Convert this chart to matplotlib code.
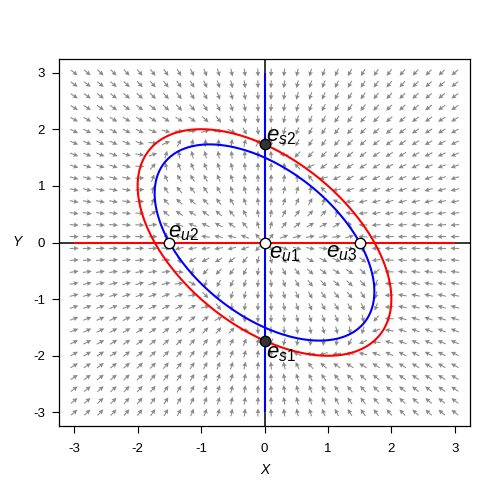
import numpy as np
import matplotlib
matplotlib.use("Agg")
import matplotlib.pyplot as plt

plt.rcParams['font.family'] = ['Liberation Sans', 'DejaVu Sans']
plt.rcParams['mathtext.fontset'] = 'custom'
plt.rcParams['mathtext.it'] = 'Liberation Sans:italic'
plt.rcParams['mathtext.rm'] = 'Liberation Sans'
plt.rcParams['axes.unicode_minus'] = False

# system: dx/dt = x(a - Q), dy/dt = y(b - Q), Q = x^2 + xy + y^2
a, b = 2.25, 3.0
lim = [-3, 3]
n_grid = 30
ticks = [-3, -2, -1, 0, 1, 2, 3]

# equilibria and their labels
eq_x = [0, -np.sqrt(a), np.sqrt(a), 0, 0]
eq_y = [0, 0, 0, -np.sqrt(b), np.sqrt(b)]
eq_stable = [False, False, False, True, True]
eq_labels = [r'$e_{u1}$', r'$e_{u2}$', r'$e_{u3}$', r'$e_{s1}$', r'$e_{s2}$']
eq_offsets = [(3, -8), (-1, 7), (-24, -7), (1, -9), (1, 6)]


def Q(x, y):
    return x**2 + x*y + y**2


fig = plt.figure(figsize=(5, 5), dpi=100)
ax = fig.add_axes([0.118, 0.148, 0.822, 0.734])

# vector field, equal arrow length
g = np.linspace(lim[0], lim[1], n_grid)
X, Y = np.meshgrid(g, g)
U = X * (a - Q(X, Y))
V = Y * (b - Q(X, Y))
L = np.hypot(U, V)
alen = 0.14
ax.quiver(X, Y, U / L * alen, V / L * alen, angles='xy', scale_units='xy',
          scale=1, pivot='middle', color='#8a8a8a', width=0.0026,
          headwidth=4.5, headlength=4.5, headaxislength=4, zorder=1)

ax.axhline(0, color='black', lw=1.1, zorder=2)
ax.axvline(0, color='black', lw=1.1, zorder=2)

# nullclines
gf = np.linspace(lim[0], lim[1], 400)
XF, YF = np.meshgrid(gf, gf)
ax.contour(XF, YF, Q(XF, YF), levels=[b], colors='red', linewidths=1.5, zorder=3)
ax.contour(XF, YF, Q(XF, YF), levels=[a], colors='blue', linewidths=1.5, zorder=3)
ax.hlines(0, lim[0], lim[1], color='red', lw=1.5, zorder=3)
ax.vlines(0, lim[0], lim[1], color='blue', lw=1.5, zorder=3)

for xe, ye, st, lab, off in zip(eq_x, eq_y, eq_stable, eq_labels, eq_offsets):
    ax.plot(xe, ye, 'o', ms=7.5, mfc='#333333' if st else 'white',
            mec='black', mew=1, zorder=5)
    ax.annotate(lab, (xe, ye), xytext=off, textcoords='offset points',
                fontsize=16, ha='left', va='center', zorder=6)

ax.set_xlim(-3.24, 3.24)
ax.set_ylim(-3.24, 3.24)
ax.set_xticks(ticks)
ax.set_yticks(ticks)
ax.tick_params(direction='out', length=5, width=0.8, labelsize=9.5)
ax.tick_params(axis='x', pad=7)
ax.tick_params(axis='y', pad=5)
for s in ax.spines.values():
    s.set_linewidth(0.9)

ax.set_xlabel('X', fontstyle='italic', fontsize=10)
ax.set_ylabel('Y', fontstyle='italic', fontsize=10, rotation=0)
ax.xaxis.set_label_coords(0.5, -0.12)
ax.yaxis.set_label_coords(-0.102, 0.5)
ax.xaxis.label.set_va('center')
ax.yaxis.label.set_va('center')

plt.savefig('out.png', dpi=100)
